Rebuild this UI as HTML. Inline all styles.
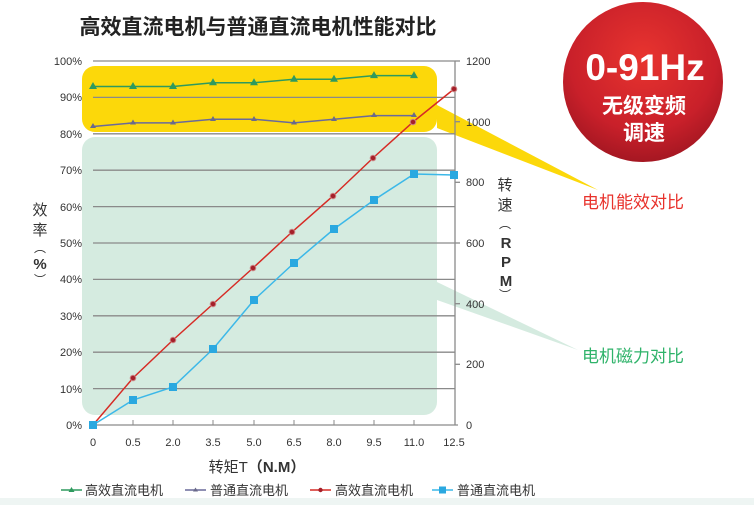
<!DOCTYPE html>
<html><head><meta charset="utf-8"><style>
html,body{margin:0;padding:0;background:#fff;}
svg{display:block;font-family:"Liberation Sans","Noto Sans CJK SC",sans-serif;}
</style></head><body>
<svg width="754" height="505" viewBox="0 0 754 505" xmlns="http://www.w3.org/2000/svg">
<defs>
<radialGradient id="rg" cx="50%" cy="35%" r="65%">
<stop offset="0" stop-color="#e8342f"/><stop offset="0.7" stop-color="#c9202a"/><stop offset="1" stop-color="#a51722"/>
</radialGradient>
</defs>
<rect x="0" y="498" width="754" height="7" fill="#eef5f3"/>
<text x="258" y="34" font-size="21" font-weight="bold" text-anchor="middle" fill="#222">高效直流电机与普通直流电机性能对比</text>
<!-- callouts -->
<polygon points="437,105 437,128 598,190" fill="#fcd80a"/>
<polygon points="437,282 437,300 578,350" fill="#d5ebe0"/>
<rect x="82" y="66" width="355" height="66" rx="13" fill="#fcd80a"/>
<rect x="82" y="137" width="355" height="278" rx="13" fill="#d5ebe0"/>
<!-- grid -->
<g stroke="#8a8a8a" stroke-width="1.3">
<line x1="93" y1="61" x2="455" y2="61"/><line x1="93" y1="97.4" x2="455" y2="97.4"/>
<line x1="93" y1="133.8" x2="455" y2="133.8"/><line x1="93" y1="170.2" x2="455" y2="170.2"/>
<line x1="93" y1="206.6" x2="455" y2="206.6"/><line x1="93" y1="243" x2="455" y2="243"/>
<line x1="93" y1="279.4" x2="455" y2="279.4"/><line x1="93" y1="315.8" x2="455" y2="315.8"/>
<line x1="93" y1="352.2" x2="455" y2="352.2"/><line x1="93" y1="388.6" x2="455" y2="388.6"/>
<line x1="93" y1="425" x2="458" y2="425"/>
<line x1="455" y1="61" x2="455" y2="425"/>
<line x1="455" y1="61" x2="460" y2="61"/><line x1="455" y1="121.7" x2="460" y2="121.7"/>
<line x1="455" y1="182.3" x2="460" y2="182.3"/><line x1="455" y1="243" x2="460" y2="243"/>
<line x1="455" y1="303.7" x2="460" y2="303.7"/><line x1="455" y1="364.3" x2="460" y2="364.3"/>
<g stroke-width="1"><line x1="133" y1="425" x2="133" y2="420"/><line x1="173" y1="425" x2="173" y2="420"/><line x1="213" y1="425" x2="213" y2="420"/><line x1="254" y1="425" x2="254" y2="420"/><line x1="294" y1="425" x2="294" y2="420"/><line x1="334" y1="425" x2="334" y2="420"/><line x1="374" y1="425" x2="374" y2="420"/><line x1="414" y1="425" x2="414" y2="420"/></g>
</g>
<!-- left labels -->
<g font-size="11" fill="#333" text-anchor="end">
<text x="82" y="65">100%</text><text x="82" y="101">90%</text><text x="82" y="138">80%</text>
<text x="82" y="174">70%</text><text x="82" y="211">60%</text><text x="82" y="247">50%</text>
<text x="82" y="283">40%</text><text x="82" y="320">30%</text><text x="82" y="356">20%</text>
<text x="82" y="393">10%</text><text x="82" y="429">0%</text>
</g>
<g font-size="11" fill="#333">
<text x="466" y="65">1200</text><text x="466" y="126">1000</text><text x="466" y="186">800</text>
<text x="466" y="247">600</text><text x="466" y="308">400</text><text x="466" y="368">200</text><text x="466" y="429">0</text>
</g>
<g font-size="11" fill="#333" text-anchor="middle">
<text x="93" y="446">0</text><text x="133" y="446">0.5</text><text x="173" y="446">2.0</text><text x="213" y="446">3.5</text><text x="254" y="446">5.0</text><text x="294" y="446">6.5</text><text x="334" y="446">8.0</text><text x="374" y="446">9.5</text><text x="414" y="446">11.0</text><text x="454" y="446">12.5</text>
</g>
<text x="257" y="472" font-size="15" text-anchor="middle" fill="#333">转矩T<tspan font-weight="bold">（N.M）</tspan></text>
<g font-size="15" fill="#333" text-anchor="middle">
<text x="40" y="215">效</text><text x="40" y="235">率</text><text x="40" y="252" font-size="12">︵</text><text x="40" y="269" font-weight="bold">%</text><text x="40" y="284" font-size="12">︶</text>
<text x="505" y="190">转</text><text x="505" y="210">速</text><text x="505" y="228" font-size="12">︵</text>
<text x="506" y="248" font-weight="bold">R</text><text x="506" y="267" font-weight="bold">P</text><text x="506" y="286" font-weight="bold">M</text><text x="505" y="299" font-size="12">︶</text>
</g>
<!-- series -->
<polyline fill="none" stroke="#2e9a5e" stroke-width="1.5" points="93,86.5 133,86.5 173,86.5 213,82.8 254,82.8 294,79.2 334,79.2 374,75.6 414,75.6"/>
<g fill="#2e9a5e">
<polygon points="93,82 89,89 97,89"/><polygon points="133,82 129,89 137,89"/><polygon points="173,82 169,89 177,89"/><polygon points="213,78.3 209,85.3 217,85.3"/><polygon points="254,78.3 250,85.3 258,85.3"/><polygon points="294,74.7 290,81.7 298,81.7"/><polygon points="334,74.7 330,81.7 338,81.7"/><polygon points="374,71.1 370,78.1 378,78.1"/><polygon points="414,71.1 410,78.1 418,78.1"/>
</g>
<polyline fill="none" stroke="#6a6a9a" stroke-width="1.5" points="93,126.5 133,122.9 173,122.9 213,119.2 254,119.2 294,122.9 334,119.2 374,115.6 414,115.6"/>
<g fill="#6a6a8a">
<polygon points="93,123 90,128 96,128"/><polygon points="133,119.5 130,124.5 136,124.5"/><polygon points="173,119.5 170,124.5 176,124.5"/><polygon points="213,116 210,121 216,121"/><polygon points="254,116 251,121 257,121"/><polygon points="294,119.5 291,124.5 297,124.5"/><polygon points="334,116 331,121 337,121"/><polygon points="374,112 371,117 377,117"/><polygon points="414,112 411,117 417,117"/>
</g>
<polyline fill="none" stroke="#d62b25" stroke-width="1.5" points="93,425 133,378 173,340 213,304 253,268 292,232 333,196 373,158 413,122 454,89"/>
<g fill="#a5202a" stroke="#c88" stroke-width="1">
<circle cx="133" cy="378" r="2.8"/><circle cx="173" cy="340" r="2.8"/><circle cx="213" cy="304" r="2.8"/><circle cx="253" cy="268" r="2.8"/><circle cx="292" cy="232" r="2.8"/><circle cx="333" cy="196" r="2.8"/><circle cx="373" cy="158" r="2.8"/><circle cx="413" cy="122" r="2.8"/><circle cx="454" cy="89" r="2.8"/>
</g>
<polyline fill="none" stroke="#3cb8e8" stroke-width="1.5" points="93,425 133,400 173,387 213,349 254,300 294,263 334,229 374,200 414,174 454,175"/>
<g fill="#2aa8e0">
<rect x="89" y="421" width="8" height="8"/><rect x="129" y="396" width="8" height="8"/><rect x="169" y="383" width="8" height="8"/><rect x="209" y="345" width="8" height="8"/><rect x="250" y="296" width="8" height="8"/><rect x="290" y="259" width="8" height="8"/><rect x="330" y="225" width="8" height="8"/><rect x="370" y="196" width="8" height="8"/><rect x="410" y="170" width="8" height="8"/><rect x="450" y="171" width="8" height="8"/>
</g>
<!-- callout text -->
<text x="582" y="208" font-size="17" fill="#e8322c">电机能效对比</text>
<text x="582" y="362" font-size="17" fill="#2fb36a">电机磁力对比</text>
<!-- badge -->
<circle cx="643" cy="82" r="80" fill="url(#rg)"/>
<text x="645" y="80" font-size="37" font-weight="bold" fill="#fff" text-anchor="middle">0-91Hz</text>
<text x="644" y="113" font-size="21" font-weight="bold" fill="#fff" text-anchor="middle">无级变频</text>
<text x="644" y="140" font-size="21" font-weight="bold" fill="#fff" text-anchor="middle">调速</text>
<!-- legend -->
<g font-size="13" fill="#333">
<line x1="61" y1="490" x2="82" y2="490" stroke="#2e9a5e" stroke-width="1.5"/><polygon points="71.5,487 68.5,492 74.5,492" fill="#2e9a5e"/>
<text x="85" y="495">高效直流电机</text>
<line x1="185" y1="490" x2="206" y2="490" stroke="#6a6a9a" stroke-width="1.5"/><polygon points="195.5,487.5 193,491.5 198,491.5" fill="#6a6a8a"/>
<text x="210" y="495">普通直流电机</text>
<line x1="310" y1="490" x2="331" y2="490" stroke="#d62b25" stroke-width="1.5"/><circle cx="320.5" cy="490" r="2.2" fill="#a5202a"/>
<text x="335" y="495">高效直流电机</text>
<line x1="432" y1="490" x2="453" y2="490" stroke="#3cb8e8" stroke-width="1.5"/><rect x="439" y="486.5" width="7" height="7" fill="#2aa8e0"/>
<text x="457" y="495">普通直流电机</text>
</g>
</svg>
</body></html>
